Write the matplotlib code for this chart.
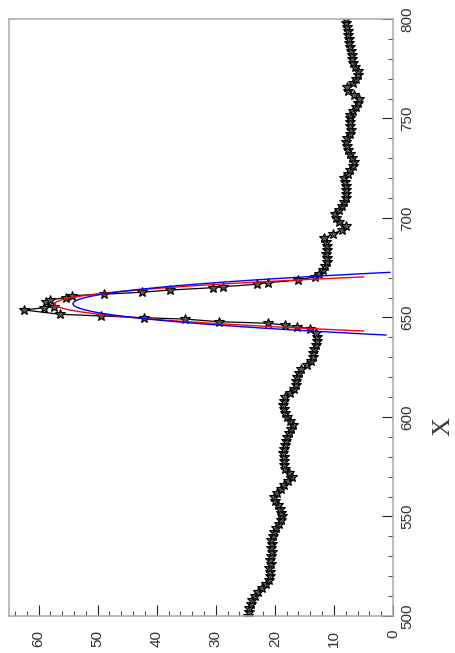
import numpy as np
import matplotlib
matplotlib.use("Agg")
import matplotlib.pyplot as plt
from matplotlib.ticker import MultipleLocator

# measured spectrum, blue side of the line (2 nm steps)
wl_blue_side = np.arange(500, 643, 2)
val_blue_side = [24.6, 24.4, 24.3, 24.1, 23.8, 23.4, 22.8, 22.2, 21.5, 21.0,
                 20.9, 20.8, 21.0, 20.7, 20.9, 20.7, 20.5, 20.6, 20.4, 20.6,
                 20.3, 20.1, 19.8, 19.3, 18.9, 18.8, 18.9, 19.1, 19.5, 20.0,
                 20.1, 19.6, 19.0, 18.4, 17.7, 17.1, 17.6, 18.2, 18.4, 18.5,
                 18.4, 18.6, 18.5, 18.3, 18.1, 17.9, 17.6, 17.2, 17.0, 17.4,
                 17.9, 18.3, 18.5, 18.6, 18.4, 18.3, 17.5, 16.7, 16.5, 16.4,
                 16.2, 15.9, 15.5, 14.6, 13.8, 13.6, 13.5, 13.3, 13.0, 12.9,
                 12.9, 13.1]

# points across the emission peak
wl_peak = [644.2, 645.4, 646.2, 647.1, 647.9, 649.2, 649.9, 650.8, 651.6, 653.8,
           654.9, 655.4, 657.9, 658.8, 660.0, 661.0, 661.7, 662.7, 663.8, 665.0,
           665.5, 666.7, 667.5, 668.8, 670.5]
val_peak = [14.0, 16.3, 18.3, 21.2, 29.5, 35.2, 42.2, 49.5, 56.3, 62.5,
            59.1, 57.4, 58.8, 58.1, 55.4, 54.3, 49.0, 42.5, 37.7, 30.4,
            28.7, 23.0, 21.2, 16.0, 13.2]

# red side of the line (2 nm steps)
wl_red_side = np.arange(672, 801, 2)
val_red_side = [12.5, 11.8, 11.5, 11.2, 11.2, 11.3, 11.2, 11.2, 11.4, 11.6,
                10.2, 8.6, 7.9, 9.2, 9.7, 9.8, 9.2, 8.7, 8.3, 7.9,
                7.9, 7.9, 7.9, 8.1, 8.3, 7.6, 7.2, 6.8, 6.6, 6.9,
                7.2, 7.6, 7.8, 7.9, 7.8, 7.2, 7.1, 7.2, 7.3, 7.3,
                7.3, 6.8, 6.2, 5.9, 5.8, 6.6, 7.6, 7.8, 6.8, 6.3,
                5.9, 5.9, 6.4, 6.8, 7.0, 7.0, 7.1, 7.3, 7.4, 7.5,
                7.6, 7.7, 7.8, 7.9, 8.0]

# fitted profiles
wl_fit_red = [643.2] + list(range(644, 671)) + [670.4]
val_fit_red = [4.96, 10.93, 17.9, 24.29, 30.12, 35.38, 40.08, 44.21, 47.78, 50.78,
               53.21, 55.08, 56.38, 57.12, 57.29, 56.89, 55.93, 54.4, 52.31, 49.65,
               46.42, 42.63, 38.27, 33.35, 27.86, 21.8, 15.18, 7.99, 4.96]

wl_fit_blue = [641.2] + list(range(642, 673)) + [672.7]
val_fit_blue = [1.2, 6.47, 12.66, 18.42, 23.75, 28.66, 33.13, 37.17, 40.78, 43.96,
                46.72, 49.04, 50.93, 52.39, 53.42, 54.03, 54.2, 53.94, 53.25, 52.13,
                50.59, 48.61, 46.2, 43.36, 40.09, 36.4, 32.27, 27.71, 22.72, 17.3,
                11.46, 5.18, 0.53]

wl = np.concatenate([wl_blue_side, wl_peak, wl_red_side])
val = np.concatenate([val_blue_side, val_peak, val_red_side])

W, H = 456, 653
fig = plt.figure(figsize=(W / 100, H / 100), dpi=100)
ax = fig.add_axes([9 / W, 1 - 616 / H, 384 / W, 597 / H])

# plot is turned on its side: intensity runs right->left, wavelength bottom->top
ax.plot(val, wl, color="black", lw=0.9, marker="*", ms=7,
        mfc="#555555", mec="black", mew=0.8, zorder=2)
ax.plot(val_fit_red, wl_fit_red, color="red", lw=1.0, zorder=3, clip_on=False)
ax.plot(val_fit_blue, wl_fit_blue, color="blue", lw=1.0, zorder=4, clip_on=False)

ax.set_xlim(65, 0)
ax.set_ylim(500, 800)

ax.xaxis.set_major_locator(MultipleLocator(10))
ax.xaxis.set_minor_locator(MultipleLocator(2))
ax.yaxis.set_major_locator(MultipleLocator(50))
ax.yaxis.set_minor_locator(MultipleLocator(10))

ax.yaxis.tick_right()
ax.tick_params(which="both", direction="in", top=False, left=False,
               bottom=True, right=True, labelsize=11, labelcolor="#333333")
ax.tick_params(which="major", length=8, width=0.8, color="#222222")
ax.tick_params(which="minor", length=3.6, width=0.8, color="#555555")
ax.tick_params(axis="x", which="major", pad=10)
ax.tick_params(axis="y", which="major", pad=5)

for lab in ax.get_xticklabels():
    lab.set_rotation(90)
    lab.set_fontfamily("Liberation Sans")
for lab in ax.get_yticklabels():
    lab.set_rotation(90)
    lab.set_va("center")
    lab.set_fontfamily("Liberation Sans")

for sp in ax.spines.values():
    sp.set_color("#aaaaaa")
    sp.set_linewidth(1.1)

fig.text(443 / W, 1 - 427 / H, "X", rotation=90, ha="center", va="center",
         fontsize=19, family="Liberation Serif", color="#3a3a3a")

fig.savefig("out.png", dpi=100)
